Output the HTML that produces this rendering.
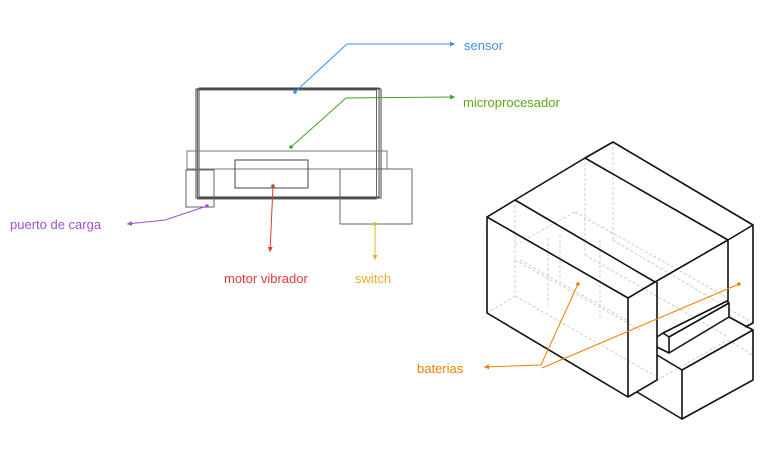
<!DOCTYPE html>
<html><head><meta charset="utf-8"><style>
html,body{margin:0;padding:0;background:#fff;}
svg{display:block}
text{font-family:"Liberation Sans",sans-serif;font-size:13px;}
</style></head><body>
<svg width="779" height="463" viewBox="0 0 779 463" xmlns="http://www.w3.org/2000/svg">
<defs>
<marker id="ab" markerWidth="6" markerHeight="6" refX="5" refY="3" orient="auto"><path d="M0,0.5 L5,3 L0,5.5z" fill="#3b8fe8"/></marker>
<marker id="ag" markerWidth="6" markerHeight="6" refX="5" refY="3" orient="auto"><path d="M0,0.5 L5,3 L0,5.5z" fill="#4aa02a"/></marker>
<marker id="ar" markerWidth="6" markerHeight="6" refX="5" refY="3" orient="auto"><path d="M0,0.5 L5,3 L0,5.5z" fill="#e03a3a"/></marker>
<marker id="ay" markerWidth="6" markerHeight="6" refX="5" refY="3" orient="auto"><path d="M0,0.5 L5,3 L0,5.5z" fill="#e8b020"/></marker>
<marker id="ap" markerWidth="6" markerHeight="6" refX="5" refY="3" orient="auto"><path d="M0,0.5 L5,3 L0,5.5z" fill="#a050d0"/></marker>
<marker id="ao" markerWidth="6" markerHeight="6" refX="5" refY="3" orient="auto"><path d="M0,0.5 L5,3 L0,5.5z" fill="#f08000"/></marker>
</defs>
<g fill="none" stroke="#444" stroke-width="1">
<rect x="196" y="89" width="185" height="109"/>
<rect x="199" y="88" width="180" height="109"/>
<rect x="197.5" y="90" width="179" height="109" stroke="#666"/>
<rect x="187" y="151" width="200" height="18" stroke="#777"/>
<rect x="235" y="160" width="73" height="28"/>
<rect x="186" y="170" width="28" height="37" stroke="#666"/>
<rect x="340" y="169" width="72" height="55" stroke="#666"/>
</g>
<polyline points="295,92 347,44 455,44" fill="none" stroke="#3b8fe8" stroke-width="1" marker-end="url(#ab)"/>
<circle cx="295" cy="92" r="1.8" fill="#3b8fe8"/>
<polyline points="291,147 346,98 455,97" fill="none" stroke="#4aa02a" stroke-width="1" marker-end="url(#ag)"/>
<circle cx="291" cy="147" r="1.8" fill="#4aa02a"/>
<polyline points="273,186 270,252" fill="none" stroke="#e03a3a" stroke-width="1" marker-end="url(#ar)"/>
<circle cx="273" cy="186" r="1.8" fill="#e03a3a"/>
<polyline points="375,224 375,260" fill="none" stroke="#e8b020" stroke-width="1" marker-end="url(#ay)"/>
<circle cx="375" cy="224" r="1.8" fill="#e8b020"/>
<polyline points="207,206 165,220 127,224" fill="none" stroke="#a050d0" stroke-width="1" marker-end="url(#ap)"/>
<circle cx="207" cy="206" r="1.8" fill="#a050d0"/>
<text x="464" y="50" fill="#3b8fe8">sensor</text>
<text x="463" y="107" fill="#5aa818">microprocesador</text>
<text x="10" y="229" fill="#a050d0">puerto de carga</text>
<text x="224" y="283" fill="#e03a3a">motor vibrador</text>
<text x="355" y="283" fill="#e8b020">switch</text>
<text x="417" y="373" fill="#f08000">baterias</text>
<g fill="none" stroke="#ccc" stroke-width="1" stroke-dasharray="3,2">
<line x1="515" y1="200" x2="515" y2="296"/>
<line x1="487" y1="313" x2="515" y2="296"/>
<line x1="515" y1="296" x2="655" y2="376"/>
<line x1="585" y1="158" x2="585" y2="255"/>
<line x1="613" y1="142" x2="613" y2="240"/>
<line x1="613" y1="240" x2="753" y2="323"/>
<line x1="585" y1="255" x2="728" y2="337"/>
<line x1="515" y1="245" x2="575" y2="212"/>
<line x1="575" y1="212" x2="728" y2="298"/>
<line x1="515" y1="260" x2="640" y2="330"/>
<line x1="548" y1="238" x2="548" y2="305"/>
<line x1="560" y1="235" x2="560" y2="280"/>
<line x1="600" y1="240" x2="600" y2="320"/>
<line x1="520" y1="260" x2="630" y2="322"/>
<line x1="657" y1="380" x2="728" y2="340"/>
<line x1="728" y1="340" x2="753" y2="355"/>
</g>
<g fill="none" stroke="#111" stroke-width="1.6" stroke-linejoin="round">
<polygon points="487,217 628,298 628,397 487,313"/>
<polyline points="487,217 515,200 655,282 628,298"/>
<polyline points="515,200 585,158 728,240 655,282"/>
<polyline points="657,282 657,380 628,397"/>
<polyline points="585,158 613,142 753,225 728,240 728,301"/>
<polyline points="753,225 753,323 745,327"/>
<polyline points="729,317 753,330"/>
<polyline points="657,355 682,370 753,330 753,380 682,419 637,392"/>
<line x1="682" y1="370" x2="682" y2="419"/>
<polyline points="657,337 663,333 727,301 729,303 729,317 669,353 669,337 729,303"/>
<line x1="663" y1="333" x2="669" y2="337"/>
<polyline points="657,347 669,353"/>
</g>
<polyline points="578,284 541,365 484,367" fill="none" stroke="#f08000" stroke-width="1" marker-end="url(#ao)"/>
<line x1="739" y1="284" x2="542" y2="368" stroke="#f08000" stroke-width="1"/>
<circle cx="578" cy="284" r="1.8" fill="#f08000"/>
<circle cx="739" cy="284" r="1.8" fill="#f08000"/>
</svg>
</body></html>
